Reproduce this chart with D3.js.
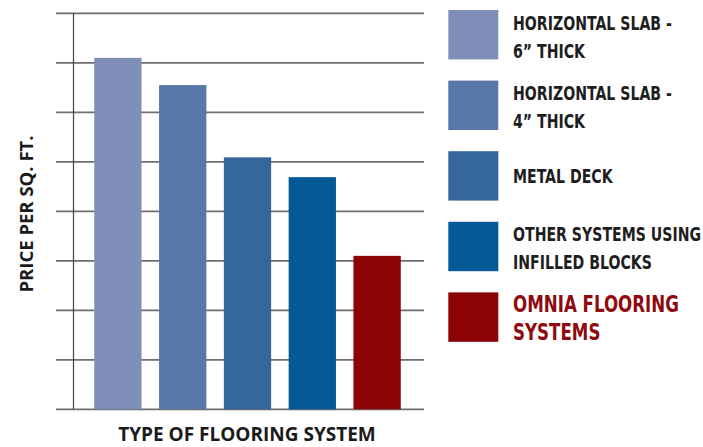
<!DOCTYPE html>
<html>
<head>
<meta charset="utf-8">
<script src="https://cdn.jsdelivr.net/npm/d3@7"></script>
<style>
  html, body { margin: 0; padding: 0; background: #fff; }
  svg { display: block; }
</style>
</head>
<body>
<svg width="703" height="447"></svg>
<script>
// категории (типы перекрытий) и цены за кв. фут (в делениях сетки)
const categories = ["Horizontal slab 6", "Horizontal slab 4", "Metal deck", "Other systems", "Omnia"];
const prices = [7.1, 6.55, 5.09, 4.69, 3.1];
const barColors = ["#7f8fb9", "#5878a9", "#35679d", "#045a96", "#8b0305"];
// подписи легенды (по строкам)
const legendLines = [
  ["HORIZONTAL SLAB -", "6\u201D THICK"],
  ["HORIZONTAL SLAB -", "4\u201D THICK"],
  ["METAL DECK"],
  ["OTHER SYSTEMS USING", "INFILLED BLOCKS"],
  ["OMNIA FLOORING", "SYSTEMS"]
];
const yTicks = [0, 1, 2, 3, 4, 5, 6, 7, 8];
const xTitle = "TYPE OF FLOORING SYSTEM";
const yTitle = "PRICE PER SQ. FT.";

const svg = d3.select("svg");

const area = { left: 73.5, right: 421.5, top: 13.3, bottom: 409.3 };

const scX = d3.scaleBand()
  .domain(categories)
  .range([area.left, area.right])
  .paddingInner(0.27)
  .paddingOuter(0.32);

const scY = d3.scaleLinear()
  .domain([0, 8])
  .range([area.bottom, area.top]);

// горизонтальная сетка
svg.append("g").selectAll("line")
  .data(yTicks)
  .enter()
  .append("line")
  .attr("x1", 56)
  .attr("x2", 424)
  .attr("y1", d => scY(d))
  .attr("y2", d => scY(d))
  .style("stroke", "#6e6e6e")
  .style("stroke-width", 1.8);

// вертикальная ось
svg.append("line")
  .attr("x1", area.left).attr("x2", area.left)
  .attr("y1", scY(8)).attr("y2", scY(0))
  .style("stroke", "#444")
  .style("stroke-width", 1.2);

// столбцы
svg.append("g").selectAll("rect")
  .data(prices)
  .enter()
  .append("rect")
  .attr("x", (d, i) => scX(categories[i]))
  .attr("y", d => scY(d))
  .attr("width", scX.bandwidth())
  .attr("height", d => scY(0) - scY(d))
  .style("fill", (d, i) => barColors[i]);

// подписи осей
svg.append("text")
  .attr("x", 247)
  .attr("y", 441)
  .attr("text-anchor", "middle")
  .style("font-family", "'Open Sans', sans-serif")
  .style("font-weight", "bold")
  .style("font-size", "19px")
  .style("fill", "#1a1a1a")
  .text(xTitle);

svg.append("text")
  .attr("transform", "translate(33,214) rotate(-90)")
  .attr("text-anchor", "middle")
  .style("font-family", "'Open Sans', sans-serif")
  .style("font-weight", "bold")
  .style("font-size", "18.5px")
  .style("fill", "#1a1a1a")
  .text(yTitle);

// легенда
const legend = svg.append("g");
const swX = 448.3, swTop = 10, swStep = 70.6, textX = 513;

legend.selectAll("rect")
  .data(barColors)
  .enter()
  .append("rect")
  .attr("x", swX)
  .attr("y", (d, i) => swTop + i * swStep)
  .attr("width", 50)
  .attr("height", 49.4)
  .style("fill", d => d);

const legendTexts = [];
legendLines.forEach((lines, i) => {
  const top = swTop + i * swStep;
  const isRed = i === 4;
  lines.forEach((line, j) => {
    const y = lines.length === 1 ? top + 31.5 : top + 19.5 + j * 28;
    const t = legend.append("text")
      .attr("transform", `translate(${textX},${y})`)
      .style("font-family", "'DejaVu Sans Condensed', 'DejaVu Sans', sans-serif")
      .style("font-weight", "bold")
      .style("font-size", isRed ? "23px" : "19.5px")
      .style("fill", isRed ? "#8f0a0e" : "#1e1e1e")
      .text(line);
    legendTexts.push({ t, y });
  });
});

// сжимаем шрифт по горизонтали, чтобы он был узким как в оригинале
const k = 159 / legendTexts[0].t.node().getComputedTextLength();
legendTexts.forEach(d => d.t.attr("transform", `translate(${textX},${d.y}) scale(${k},1)`));
</script>
</body>
</html>
